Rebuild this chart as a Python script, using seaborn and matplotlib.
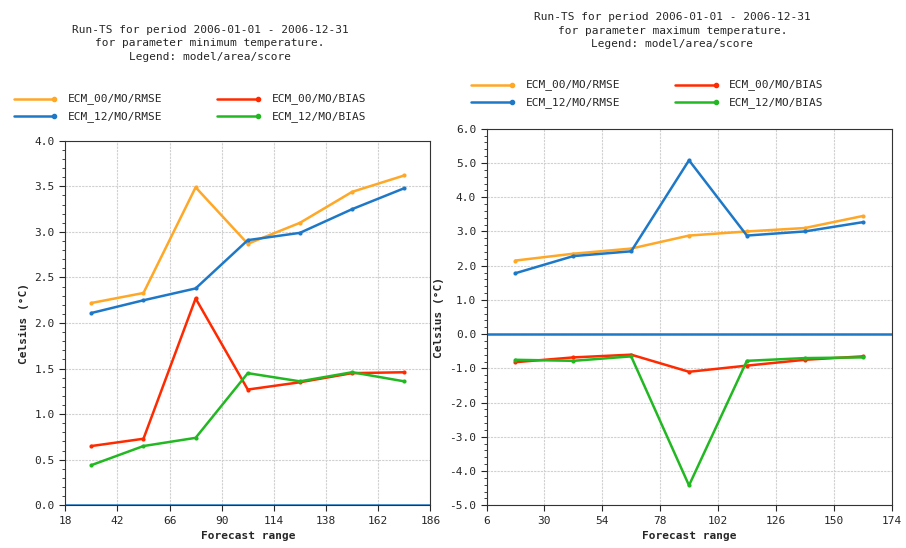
import matplotlib
matplotlib.use("Agg")
import matplotlib.pyplot as plt
import seaborn as sns
import pandas as pd
from matplotlib.ticker import MultipleLocator, AutoMinorLocator, FixedLocator

sns.set_style("white")
plt.rcParams['font.family'] = ['DejaVu Sans Mono']

# left chart: minimum temperature
x_min = [30, 54, 78, 102, 126, 150, 174]
min_00_rmse = [2.22, 2.33, 3.49, 2.87, 3.10, 3.44, 3.62]
min_12_rmse = [2.11, 2.25, 2.38, 2.91, 2.99, 3.25, 3.48]
min_00_bias = [0.65, 0.73, 2.27, 1.27, 1.35, 1.45, 1.46]
min_12_bias = [0.44, 0.65, 0.74, 1.45, 1.36, 1.46, 1.36]

# right chart: maximum temperature
x_max = [18, 42, 66, 90, 114, 138, 162]
max_00_rmse = [2.15, 2.35, 2.50, 2.88, 3.00, 3.10, 3.45]
max_12_rmse = [1.78, 2.28, 2.42, 5.08, 2.88, 3.00, 3.27]
max_00_bias = [-0.82, -0.68, -0.60, -1.10, -0.92, -0.75, -0.65]
max_12_bias = [-0.75, -0.78, -0.65, -4.42, -0.78, -0.70, -0.68]

series = ['ECM_00/MO/RMSE', 'ECM_12/MO/RMSE', 'ECM_00/MO/BIAS', 'ECM_12/MO/BIAS']
colores = ['#ffa726', '#1e78c8', '#ff2a00', '#22b822']


def armar(x, vals):
    filas = []
    for nombre, v in zip(series, vals):
        for xi, yi in zip(x, v):
            filas.append({'x': xi, 'y': yi, 'serie': nombre})
    return pd.DataFrame(filas)


fig = plt.figure(figsize=(9.06, 5.48), dpi=100)
ax1 = fig.add_axes([0.072, 0.078, 0.403, 0.665])
ax2 = fig.add_axes([0.537, 0.078, 0.447, 0.687])


def graficar(ax, df, xlim, ylim, titulo, tit_x, tit_y, leg_x, leg_y):
    sns.lineplot(data=df, x='x', y='y', hue='serie', palette=colores, hue_order=series,
                 marker='o', markersize=3, markeredgewidth=0, linewidth=1.8, ax=ax, legend=False)
    ax.axhline(0, color='#1e78c8', linewidth=1.8, zorder=1)
    ax.set_xlim(*xlim)
    ax.set_ylim(*ylim)
    ax.xaxis.set_major_locator(FixedLocator(list(range(xlim[0], xlim[1] + 1, 24))))
    ax.yaxis.set_major_locator(MultipleLocator(0.5 if ylim[1] < 5 else 1.0))
    ax.yaxis.set_minor_locator(AutoMinorLocator(5))
    ax.yaxis.set_major_formatter(matplotlib.ticker.FormatStrFormatter('%.1f'))
    ax.grid(True, color='#d0d0d0', linestyle=(0, (2, 1)), linewidth=0.8)
    ax.tick_params(axis='both', labelsize=8, direction='out', length=4, left=True, bottom=True)
    ax.tick_params(axis='y', which='minor', length=2, left=True)
    ax.set_xlabel('Forecast range', fontsize=8, fontweight='bold')
    ax.set_ylabel('Celsius (°C)', fontsize=8, fontweight='bold')
    for s in ax.spines.values():
        s.set_color('#333333')
    fig.text(tit_x, tit_y, titulo, ha='center', va='top', fontsize=8, linespacing=1.45)
    # leyenda manual en dos columnas
    for i, (nombre, c) in enumerate(zip(series, colores)):
        lx = leg_x + (i // 2) * 0.225
        ly = leg_y - (i % 2) * 0.032
        fig.add_artist(plt.Line2D([lx, lx + 0.045], [ly, ly], color=c, linewidth=1.8,
                                  marker='o', markersize=3, markevery=[1], transform=fig.transFigure))
        fig.text(lx + 0.06, ly, nombre, va='center', fontsize=8)


graficar(ax1, armar(x_min, [min_00_rmse, min_12_rmse, min_00_bias, min_12_bias]),
         (18, 186), (0, 4.0),
         'Run-TS for period 2006-01-01 - 2006-12-31\nfor parameter minimum temperature.\nLegend: model/area/score',
         0.232, 0.955, 0.015, 0.82)
graficar(ax2, armar(x_max, [max_00_rmse, max_12_rmse, max_00_bias, max_12_bias]),
         (6, 174), (-5.0, 6.0),
         'Run-TS for period 2006-01-01 - 2006-12-31\nfor parameter maximum temperature.\nLegend: model/area/score',
         0.742, 0.978, 0.52, 0.845)

fig.savefig('out.png', dpi=100)
